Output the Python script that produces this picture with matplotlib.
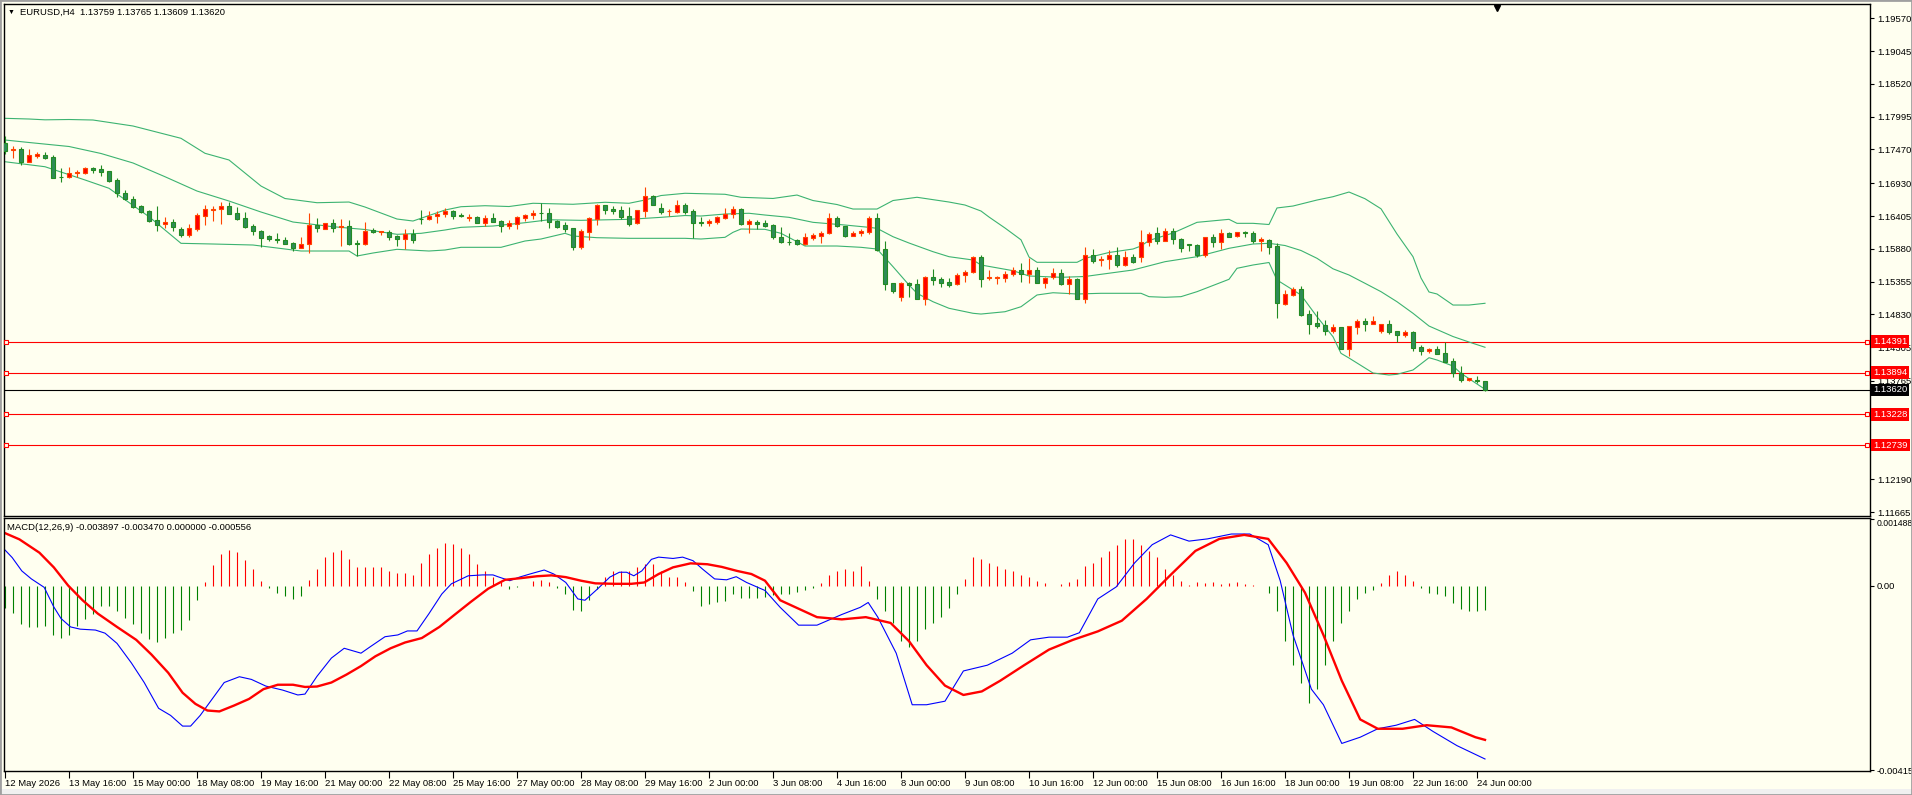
import matplotlib
matplotlib.use("Agg")
import matplotlib.pyplot as plt
import matplotlib.transforms as mtransforms
from matplotlib.patches import Rectangle
import numpy as np

plt.rcParams['font.family'] = ['Liberation Sans', 'DejaVu Sans']

# EURUSD H4, 186 bars (12 May 08:00 .. 24 Jun 04:00)
opens = [
    1.17568, 1.17456, 1.17478, 1.17275, 1.17366, 1.17387, 1.17350, 1.17035, 1.17024, 1.17088,
    1.17088, 1.17179, 1.17158, 1.17126, 1.16982, 1.16768, 1.16677, 1.16565, 1.16491, 1.16341,
    1.16272, 1.16304, 1.16197, 1.16101, 1.16202, 1.16411, 1.16507, 1.16512, 1.16565, 1.16453,
    1.16373, 1.16245, 1.16165, 1.16085, 1.16037, 1.16021, 1.15973, 1.15898, 1.15952, 1.16261,
    1.16202, 1.16288, 1.16234, 1.16245, 1.15968, 1.15952, 1.16181, 1.16149, 1.16154, 1.16085,
    1.16037, 1.16112, 1.16363, 1.16363, 1.16411, 1.16443, 1.16485, 1.16421, 1.16379, 1.16384,
    1.16288, 1.16368, 1.16325, 1.16245, 1.16277, 1.16379, 1.16416, 1.16459, 1.16453, 1.16325,
    1.16256, 1.16208, 1.15914, 1.16155, 1.16357, 1.16581, 1.16517, 1.16501, 1.16405, 1.16288,
    1.16491, 1.16726, 1.16528, 1.16480, 1.16475, 1.16581, 1.16485, 1.16309, 1.16288, 1.16315,
    1.16379, 1.16432, 1.16512, 1.16283, 1.16309, 1.16293, 1.16256, 1.16075, 1.15995, 1.16021,
    1.15963, 1.16059, 1.16091, 1.16128, 1.16368, 1.16245, 1.16091, 1.16128, 1.16155, 1.16368,
    1.15877, 1.15328, 1.15103, 1.15328, 1.15317, 1.15082, 1.15429, 1.15392, 1.15349, 1.15312,
    1.15456, 1.15504, 1.15749, 1.15408, 1.15413, 1.15418, 1.15472, 1.15541, 1.15482, 1.15541,
    1.15338, 1.15434, 1.15488, 1.15322, 1.15392, 1.15082, 1.15776, 1.15696, 1.15712, 1.15776,
    1.15626, 1.15744, 1.15744, 1.15989, 1.16128, 1.16011, 1.16165, 1.16032, 1.15957, 1.15936,
    1.15781, 1.16064, 1.15995, 1.16128, 1.16080, 1.16149, 1.16128, 1.16010, 1.16021, 1.15925,
    1.15002, 1.15140, 1.15231, 1.14831, 1.14687, 1.14655, 1.14569, 1.14628, 1.14281, 1.14634,
    1.14724, 1.14682, 1.14569, 1.14671, 1.14564, 1.14500, 1.14548, 1.14308, 1.14244, 1.14276,
    1.14212, 1.14084, 1.13897, 1.13785, 1.13780, 1.13759]
highs = [
    1.17686, 1.17526, 1.17504, 1.17472, 1.17424, 1.17424, 1.17382, 1.17168, 1.17190, 1.17142,
    1.17190, 1.17195, 1.17222, 1.17126, 1.17008, 1.16821, 1.16725, 1.16581, 1.16501, 1.16565,
    1.16384, 1.16357, 1.16234, 1.16277, 1.16448, 1.16581, 1.16565, 1.16624, 1.16635, 1.16544,
    1.16469, 1.16277, 1.16181, 1.16096, 1.16138, 1.16069, 1.15989, 1.16074, 1.16448, 1.16368,
    1.16288, 1.16352, 1.16357, 1.16341, 1.16021, 1.16309, 1.16208, 1.16165, 1.16181, 1.16101,
    1.16197, 1.16197, 1.16501, 1.16485, 1.16485, 1.16528, 1.16501, 1.16453, 1.16437, 1.16405,
    1.16416, 1.16453, 1.16341, 1.16341, 1.16405, 1.16437, 1.16501, 1.16608, 1.16533, 1.16341,
    1.16304, 1.16219, 1.16192, 1.16384, 1.16592, 1.16587, 1.16565, 1.16565, 1.16549, 1.16501,
    1.16870, 1.16742, 1.16613, 1.16523, 1.16662, 1.16608, 1.16512, 1.16384, 1.16363, 1.16405,
    1.16528, 1.16565, 1.16528, 1.16357, 1.16341, 1.16341, 1.16277, 1.16224, 1.16128, 1.16037,
    1.16133, 1.16128, 1.16171, 1.16459, 1.16405, 1.16251, 1.16165, 1.16192, 1.16400, 1.16459,
    1.16005, 1.15333, 1.15354, 1.15354, 1.15397, 1.15450, 1.15557, 1.15434, 1.15413, 1.15488,
    1.15541, 1.15765, 1.15781, 1.15541, 1.15450, 1.15530, 1.15589, 1.15653, 1.15738, 1.15589,
    1.15429, 1.15573, 1.15557, 1.15445, 1.15408, 1.15904, 1.15877, 1.15765, 1.15861, 1.15904,
    1.15845, 1.15792, 1.16181, 1.16155, 1.16224, 1.16208, 1.16213, 1.16053, 1.15963, 1.15957,
    1.16069, 1.16112, 1.16192, 1.16144, 1.16155, 1.16165, 1.16165, 1.16074, 1.16037, 1.15968,
    1.15220, 1.15274, 1.15284, 1.14900, 1.14884, 1.14740, 1.14671, 1.14634, 1.14650, 1.14756,
    1.14778, 1.14804, 1.14676, 1.14740, 1.14570, 1.14580, 1.14564, 1.14340, 1.14297, 1.14324,
    1.14393, 1.14137, 1.14004, 1.13817, 1.13844, 1.13765]
lows = [
    1.17392, 1.17339, 1.17222, 1.17270, 1.17328, 1.17318, 1.17008, 1.16955, 1.17019, 1.17035,
    1.17072, 1.17099, 1.17051, 1.16955, 1.16715, 1.16661, 1.16528, 1.16459, 1.16315, 1.16170,
    1.16208, 1.16170, 1.16074, 1.16074, 1.16170, 1.16267, 1.16325, 1.16283, 1.16432, 1.16341,
    1.16218, 1.16101, 1.15914, 1.16010, 1.15968, 1.15952, 1.15845, 1.15888, 1.15818, 1.16154,
    1.16192, 1.16154, 1.15930, 1.15941, 1.15765, 1.15941, 1.16128, 1.16101, 1.16021, 1.15930,
    1.15872, 1.15979, 1.16277, 1.16341, 1.16299, 1.16395, 1.16363, 1.16389, 1.16325, 1.16288,
    1.16251, 1.16309, 1.16155, 1.16197, 1.16203, 1.16325, 1.16363, 1.16325, 1.16219, 1.16219,
    1.16155, 1.15861, 1.15882, 1.16021, 1.16261, 1.16437, 1.16443, 1.16352, 1.16245, 1.16272,
    1.16395, 1.16582, 1.16437, 1.16405, 1.16459, 1.16437, 1.16048, 1.16245, 1.16251, 1.16283,
    1.16357, 1.16379, 1.16261, 1.16139, 1.16203, 1.16235, 1.16037, 1.15968, 1.15941, 1.15936,
    1.15946, 1.16021, 1.15979, 1.16123, 1.16224, 1.16075, 1.16085, 1.16091, 1.16117, 1.15850,
    1.15221, 1.15178, 1.15045, 1.15114, 1.15077, 1.14986, 1.15306, 1.15274, 1.15264, 1.15306,
    1.15354, 1.15498, 1.15274, 1.15381, 1.15317, 1.15349, 1.15445, 1.15349, 1.15333, 1.15333,
    1.15258, 1.15402, 1.15306, 1.15162, 1.15071, 1.15018, 1.15658, 1.15605, 1.15562, 1.15594,
    1.15605, 1.15658, 1.15674, 1.15925, 1.15963, 1.16000, 1.15963, 1.15834, 1.15850, 1.15754,
    1.15744, 1.15914, 1.15882, 1.16064, 1.16064, 1.16075, 1.15979, 1.15850, 1.15797, 1.14778,
    1.14980, 1.15124, 1.14810, 1.14516, 1.14612, 1.14500, 1.14537, 1.14271, 1.14169, 1.14516,
    1.14569, 1.14671, 1.14537, 1.14521, 1.14393, 1.14473, 1.14249, 1.14180, 1.14207, 1.14191,
    1.14068, 1.13822, 1.13753, 1.13758, 1.13726, 1.13609]
closes = [
    1.17451, 1.17472, 1.17275, 1.17382, 1.17392, 1.17339, 1.17019, 1.17024, 1.17088, 1.17104,
    1.17168, 1.17147, 1.17115, 1.16971, 1.16768, 1.16672, 1.16555, 1.16475, 1.16331, 1.16256,
    1.16304, 1.16234, 1.16106, 1.16208, 1.16421, 1.16512, 1.16523, 1.16565, 1.16443, 1.16357,
    1.16234, 1.16170, 1.16058, 1.16037, 1.16016, 1.15962, 1.15888, 1.15952, 1.16261, 1.16218,
    1.16288, 1.16218, 1.16245, 1.15957, 1.15957, 1.16170, 1.16149, 1.16165, 1.16074, 1.16042,
    1.16112, 1.16021, 1.16352, 1.16411, 1.16443, 1.16485, 1.16411, 1.16411, 1.16389, 1.16299,
    1.16368, 1.16315, 1.16245, 1.16288, 1.16384, 1.16416, 1.16453, 1.16448, 1.16315, 1.16235,
    1.16203, 1.15914, 1.16165, 1.16368, 1.16581, 1.16501, 1.16491, 1.16389, 1.16283, 1.16496,
    1.16726, 1.16587, 1.16469, 1.16491, 1.16576, 1.16475, 1.16299, 1.16288, 1.16325, 1.16384,
    1.16432, 1.16512, 1.16283, 1.16325, 1.16283, 1.16245, 1.16075, 1.15995, 1.15984, 1.15957,
    1.16064, 1.16096, 1.16128, 1.16368, 1.16245, 1.16091, 1.16128, 1.16165, 1.16368, 1.15861,
    1.15317, 1.15210, 1.15328, 1.15306, 1.15082, 1.15429, 1.15381, 1.15338, 1.15306, 1.15461,
    1.15509, 1.15749, 1.15402, 1.15429, 1.15434, 1.15472, 1.15536, 1.15477, 1.15541, 1.15338,
    1.15418, 1.15488, 1.15317, 1.15392, 1.15082, 1.15776, 1.15690, 1.15717, 1.15776, 1.15621,
    1.15744, 1.15674, 1.15984, 1.16117, 1.16011, 1.16165, 1.16032, 1.15898, 1.15936, 1.15786,
    1.16064, 1.15995, 1.16128, 1.16075, 1.16144, 1.16133, 1.16011, 1.16032, 1.15914, 1.15007,
    1.15156, 1.15231, 1.14820, 1.14676, 1.14644, 1.14569, 1.14623, 1.14281, 1.14644, 1.14724,
    1.14682, 1.14724, 1.14671, 1.14553, 1.14500, 1.14543, 1.14297, 1.14249, 1.14281, 1.14201,
    1.14073, 1.13886, 1.13785, 1.13806, 1.13758, 1.13620]

# Bollinger bands (20, 2) at these bars
bb_up_bars = [0, 3, 5, 8, 11, 16, 22, 25, 28, 32, 35, 39, 43, 45, 49, 51, 53, 55, 57, 60,
              63, 66, 71, 75, 78, 80, 82, 85, 90, 92, 96, 99, 101, 104, 106, 109, 111, 114, 118, 120,
              122, 123, 125, 127, 128, 129, 134, 135, 138, 141, 142, 143, 146, 149, 153, 154, 156, 158, 159, 161,
              164, 166, 168, 170, 172, 174, 176, 177, 178, 179, 181, 183, 185]
bb_up = [1.17969, 1.17958, 1.17945, 1.17950, 1.17942, 1.17846, 1.17649, 1.17409, 1.17302, 1.16885,
         1.16685, 1.16618, 1.16629, 1.16549, 1.16357, 1.16325, 1.16413, 1.16501, 1.16554, 1.16570,
         1.16557, 1.16609, 1.16593, 1.16625, 1.16609, 1.16661, 1.16733, 1.16769, 1.16753, 1.16705,
         1.16686, 1.16741, 1.16653, 1.16589, 1.16517, 1.16517, 1.16653, 1.16705, 1.16629, 1.16581,
         1.16485, 1.16389, 1.16213, 1.16024, 1.15749, 1.15664, 1.15664, 1.15728, 1.15821, 1.15877,
         1.15925, 1.16013, 1.16133, 1.16304, 1.16352, 1.16288, 1.16288, 1.16269, 1.16534, 1.16565,
         1.16661, 1.16714, 1.16789, 1.16682, 1.16521, 1.16117, 1.15754, 1.15413, 1.15189, 1.15157,
         1.14980, 1.14980, 1.15008]
bb_mid_bars = [0, 3, 8, 12, 16, 20, 24, 28, 32, 36, 41, 45, 49, 52, 55, 57, 61, 65, 68, 72,
               78, 82, 85, 87, 90, 93, 95, 98, 101, 105, 108, 109, 111, 113, 116, 118, 121, 122, 126, 128,
               132, 135, 137, 141, 145, 149, 153, 156, 158, 160, 162, 164, 166, 168, 170, 172, 174, 176, 178, 181,
               183, 185]
bb_mid = [1.17622, 1.17582, 1.17518, 1.17406, 1.17254, 1.17034, 1.16805, 1.16645, 1.16469, 1.16309,
          1.16234, 1.16189, 1.16112, 1.16128, 1.16181, 1.16224, 1.16245, 1.16298, 1.16345, 1.16336,
          1.16352, 1.16384, 1.16413, 1.16405, 1.16437, 1.16449, 1.16421, 1.16384, 1.16304, 1.16261,
          1.16224, 1.16208, 1.16074, 1.15973, 1.15834, 1.15754, 1.15701, 1.15621, 1.15530, 1.15445,
          1.15424, 1.15437, 1.15472, 1.15541, 1.15674, 1.15754, 1.15888, 1.15957, 1.15968, 1.15933,
          1.15853, 1.15728, 1.15560, 1.15461, 1.15328, 1.15194, 1.15033, 1.14848, 1.14644, 1.14476,
          1.14388, 1.14304]
bb_low_bars = [0, 5, 10, 13, 18, 22, 26, 31, 37, 43, 44, 46, 49, 53, 55, 57, 62, 65, 67, 70,
               71, 74, 78, 85, 87, 90, 91, 92, 95, 97, 99, 100, 104, 107, 109, 111, 113, 114, 116, 118,
               121, 122, 125, 127, 129, 131, 134, 137, 142, 143, 145, 147, 149, 153, 154, 156, 158, 159, 161, 162,
               164, 166, 167, 168, 171, 173, 174, 176, 178, 179, 181, 182, 185]
bb_low = [1.17274, 1.17194, 1.16982, 1.16849, 1.16394, 1.15968, 1.15957, 1.15941, 1.15845, 1.15845,
          1.15765, 1.15813, 1.15872, 1.15845, 1.15861, 1.15904, 1.15904, 1.16005, 1.16037, 1.16128,
          1.16085, 1.16058, 1.16048, 1.16048, 1.16037, 1.16064, 1.16144, 1.16197, 1.16192, 1.16128,
          1.15994, 1.15925, 1.15925, 1.15904, 1.15877, 1.15594, 1.15301, 1.15168, 1.15033, 1.14928,
          1.14848, 1.14836, 1.14873, 1.14953, 1.15141, 1.15177, 1.15157, 1.15168, 1.15168, 1.15114,
          1.15104, 1.15114, 1.15194, 1.15392, 1.15568, 1.15621, 1.15661, 1.15381, 1.15221, 1.15141,
          1.14793, 1.14473, 1.14207, 1.14132, 1.13892, 1.13860, 1.13871, 1.13940, 1.14137, 1.14100,
          1.14004, 1.13887, 1.13631]

# MACD(12,26,9) - values in units of 1e-5
macd_bars = [0, 0.9, 2.1, 3.3, 4.9, 6.1, 7.0, 8.2, 9.4, 11.3, 12.5, 14.0, 15.8, 17.4, 19.2, 20.7, 22.2, 23.2,
             24.4, 25.9, 27.4, 29.3, 30.8, 32.6, 34.7, 36.6, 37.5, 39.0, 40.8, 42.4, 44.5, 45.7, 47.5, 49.1,
             50.3, 51.5, 53.0, 54.6, 55.8, 57.9, 59.7, 61.0, 61.6, 63.1, 64.3, 65.8, 67.4, 68.6, 70.1, 71.6,
             72.5, 74.1, 75.6, 76.8, 77.7, 78.6, 79.6, 80.8, 81.7, 83.5, 84.7, 86.0, 87.2, 88.7, 90.2, 91.4,
             92.7, 95.0, 96.9, 99.2, 101.5, 104.6, 106.9, 107.9, 109.1, 111.4, 113.4, 115.2, 117.5, 119.8,
             122.8, 125.9, 128.2, 130.5, 132.8, 134.3, 136.6, 138.9, 141.2, 143.4, 145.7, 148.0, 150.3,
             153.3, 155.6, 157.9, 159.4, 161.0, 163.3, 164.8, 167.1, 169.4, 171.6, 173.9, 176.2, 178.5,
             181.5, 185.0]
macd_main = [80, 63, 33, 15, -4, -48, -74, -93, -98, -100, -107, -130, -174, -218, -276, -292, -316, -316,
             -292, -255, -218, -205, -211, -226, -235, -246, -244, -204, -163, -141, -152, -137, -115, -111,
             -102, -102, -63, -19, 4, 22, 24, 24, 20, 11, 19, 27, 35, 26, 7, -30,
             -33, -7, 19, 30, 30, 22, 33, 59, 64, 61, 64, 56, 37, 15, 13, 20,
             7, -11, -49, -89, -89, -65, -49, -38, -71, -152, -268, -268, -260, -192,
             -179, -152, -122, -116, -116, -106, -30, -3, 51, 92, 114, 100, 105,
             116, 116, 92, 11, -111, -233, -268, -355, -341, -322, -314, -301, -328,
             -360, -390]
signal_bars = [0, 1.8, 4.3, 6.1, 7.9, 9.7, 11.6, 14.0, 16.4, 18.3, 20.4, 22.2, 23.8, 25.3, 26.8, 28.6,
               30.5, 32.3, 34.1, 36.0, 37.5, 39.0, 40.8, 42.7, 44.5, 46.3, 48.2, 50.0, 52.1, 54.3, 56.1,
               58.2, 60.4, 62.5, 64.6, 66.5, 68.3, 70.1, 72.0, 73.8, 76.2, 78.3, 79.9, 81.7, 83.5, 85.7,
               87.8, 89.6, 91.5, 93.3, 95.0, 96.9, 101.5, 104.6, 107.6, 110.7, 113.0, 115.2, 117.5, 119.8,
               122.1, 124.4, 127.4, 130.5, 133.5, 136.6, 139.6, 142.7, 145.7, 148.8, 151.8, 154.9, 157.9,
               160.2, 162.5, 164.8, 167.1, 169.4, 171.6, 174.7, 177.7, 180.8, 183.8, 185.0]
macd_signal = [118, 104, 74, 41, 0, -33, -63, -93, -122, -155, -196, -241, -266, -281, -283, -270,
               -255, -233, -223, -223, -228, -227, -218, -200, -181, -159, -141, -128, -118, -93, -67,
               -37, -7, 13, 17, 21, 23, 19, 11, 5, 4, 4, 7, 26, 41, 50,
               48, 42, 33, 26, 11, -33, -71, -76, -71, -84, -125, -179, -225, -246,
               -238, -214, -179, -144, -122, -103, -79, -30, 24, 78, 105, 114, 105,
               51, -16, -111, -214, -301, -322, -322, -314, -319, -341, -347]
macd_hist = [
    -50, -61, -87, -94, -94, -91, -111, -119, -111, -91,
    -76, -63, -47, -47, -57, -72, -87, -106, -121, -128,
    -118, -107, -100, -78, -33, 9, 46, 72, 80, 75,
    58, 37, 11, -6, -17, -24, -30, -24, 13, 37,
    64, 75, 81, 59, 41, 41, 41, 41, 33, 28,
    28, 24, 51, 72, 85, 95, 94, 85, 70, 48,
    33, 19, 9, -7, -4, -1, 10, 13, 7, -5,
    -20, -56, -57, -33, -7, 19, 33, 33, 32, 41,
    48, 48, 33, 20, 20, 9, -13, -46, -42, -37,
    -35, -20, -27, -28, -27, -25, -22, -20, -18, -15,
    -10, -5, 5, 24, 33, 38, 33, 43, 10, -30,
    -57, -84, -125, -138, -125, -98, -84, -71, -50, -20,
    15, 65, 60, 51, 43, 38, 32, 24, 20, 11,
    5, 0, 3, 8, 15, 45, 51, 65, 78, 92,
    105, 105, 92, 78, 65, 38, 24, 11, 2, 8,
    5, 8, 3, 6, 8, 3, 2, -2, -16, -57,
    -125, -179, -219, -265, -233, -179, -125, -84, -57, -30,
    -16, -10, 5, 24, 32, 24, 10, -5, -16, -20,
    -24, -40, -52, -57, -57, -56]

red_levels = [1.14391, 1.13894, 1.13228, 1.12739]
bid = 1.13620
price_ticks = [1.19570, 1.19045, 1.18520, 1.17995, 1.17470, 1.16930, 1.16405,
               1.15880, 1.15355, 1.14830, 1.14305, 1.13765, 1.12190, 1.11665]
time_labels = ["12 May 2026", "13 May 16:00", "15 May 00:00", "18 May 08:00", "19 May 16:00",
               "21 May 00:00", "22 May 08:00", "25 May 16:00", "27 May 00:00", "28 May 08:00",
               "29 May 16:00", "2 Jun 00:00", "3 Jun 08:00", "4 Jun 16:00", "8 Jun 00:00",
               "9 Jun 08:00", "10 Jun 16:00", "12 Jun 00:00", "15 Jun 08:00", "16 Jun 16:00",
               "18 Jun 00:00", "19 Jun 08:00", "22 Jun 16:00", "24 Jun 00:00"]

BG = '#FFFFF0'
W, H = 1912, 795
FS = 6.8


def px_box(l, t, r, b):
    return [l / W, 1 - b / H, (r - l) / W, (b - t) / H]


fig = plt.figure(figsize=(W / 100, H / 100), dpi=100, facecolor=BG)
ax = fig.add_axes(px_box(4, 4, 1870, 516), facecolor=BG)
ax2 = fig.add_axes(px_box(4, 518, 1870, 771), facecolor=BG)

o = np.array(opens)
h = np.array(highs)
l = np.array(lows)
c = np.array(closes)
x = np.arange(len(c))
up = c > o

# candles: red = bullish, green = bearish
wick_col = np.where(up, '#FF4500', '#228B22')
fill_col = np.where(up, '#FF0000', '#2E8B57')
ax.vlines(x, l, h, colors=wick_col, lw=0.8, zorder=3)
ax.bar(x, np.abs(c - o), bottom=np.minimum(o, c), width=0.6, color=fill_col,
       edgecolor=wick_col, linewidth=0.8, zorder=4)

band = '#3CB371'
ax.plot(bb_up_bars, bb_up, color=band, lw=0.8, zorder=2)
ax.plot(bb_mid_bars, bb_mid, color=band, lw=0.8, zorder=2)
ax.plot(bb_low_bars, bb_low, color=band, lw=0.8, zorder=2)

xlim = (-0.125, 233.125)
for lv in red_levels:
    ax.axhline(lv, color='red', lw=0.8, zorder=1)
    ax.plot([0.15, 232.7], [lv, lv], ls='none', marker='s', ms=3.5, mfc=BG, mec='red', mew=0.8,
            zorder=5, clip_on=False)
ax.axhline(bid, color='black', lw=0.8, zorder=1)

ax.set_xlim(*xlim)
ax.set_ylim(1.11603, 1.19799)
ax.set_xticks([])
ax.yaxis.tick_right()
ax.set_yticks(price_ticks)
ax.set_yticklabels([f'{p:.5f}' for p in price_ticks], fontsize=FS)
ax.tick_params(axis='y', length=3, width=0.8, pad=2)

ytrans = ax.get_yaxis_transform()
for lv in red_levels:
    ax.text(1.0017, lv, f'{lv:.5f}', transform=ytrans, color='white', fontsize=FS, va='center',
            ha='left', zorder=10, clip_on=False,
            bbox=dict(boxstyle='square,pad=0.2', fc='red', ec='none'))
ax.text(1.0017, bid, f'{bid:.5f}', transform=ytrans, color='white', fontsize=FS, va='center',
        ha='left', zorder=10, clip_on=False,
        bbox=dict(boxstyle='square,pad=0.2', fc='black', ec='none'))

# chart shift marker
shift_tr = mtransforms.blended_transform_factory(ax.transData, ax.transAxes)
ax.plot([186.5], [0.992], marker='v', color='black', ms=5, transform=shift_tr, clip_on=False)

# MACD panel
hist = np.array(macd_hist) * 1e-5
hist_col = np.where(hist > 0, '#FF0000', '#008000')
ax2.vlines(x, 0, hist, colors=hist_col, lw=0.8)
ax2.plot(macd_bars, np.array(macd_main) * 1e-5, color='#0000FF', lw=0.8)
ax2.plot(signal_bars, np.array(macd_signal) * 1e-5, color='#FF0000', lw=1.7)
ax2.set_xlim(*xlim)
ax2.set_ylim(-0.00417, 0.00152)
ax2.yaxis.tick_right()
ax2.set_yticks([0.001488, 0.0, -0.00415])
ax2.set_yticklabels(['0.001488', '0.00', '-0.00415'], fontsize=FS)
top_lbl = ax2.get_yticklabels()[0]
top_lbl.set_fontsize(6.2)
top_lbl.set_va('top')
ax2.tick_params(axis='y', length=3, width=0.8, pad=2)
ax2.set_xticks(np.arange(0, len(c), 8))
ax2.set_xticklabels(time_labels, fontsize=FS, ha='left')
ax2.tick_params(axis='x', length=5, width=0.8, pad=1)

for a in (ax, ax2):
    for s in a.spines.values():
        s.set_color('black')
        s.set_linewidth(1)

fig.text(11 / W, 1 - 12 / H, '\u25BC', fontsize=5, va='center', ha='center')
fig.text(20 / W, 1 - 12 / H, 'EURUSD,H4  1.13759 1.13765 1.13609 1.13620', fontsize=FS, va='center')
fig.text(7 / W, 1 - 528 / H, 'MACD(12,26,9) -0.003897 -0.003470 0.000000 -0.000556', fontsize=FS,
         va='center')

fig.patches.append(Rectangle((0, 0), 1, 6 / H, transform=fig.transFigure, fc='#F0F0F0', ec='none'))
fig.patches.append(Rectangle((0, 0), 1, 1, transform=fig.transFigure, fill=False, ec='#A0A0A0', lw=2))

fig.savefig('out.png', dpi=100, facecolor=BG)
